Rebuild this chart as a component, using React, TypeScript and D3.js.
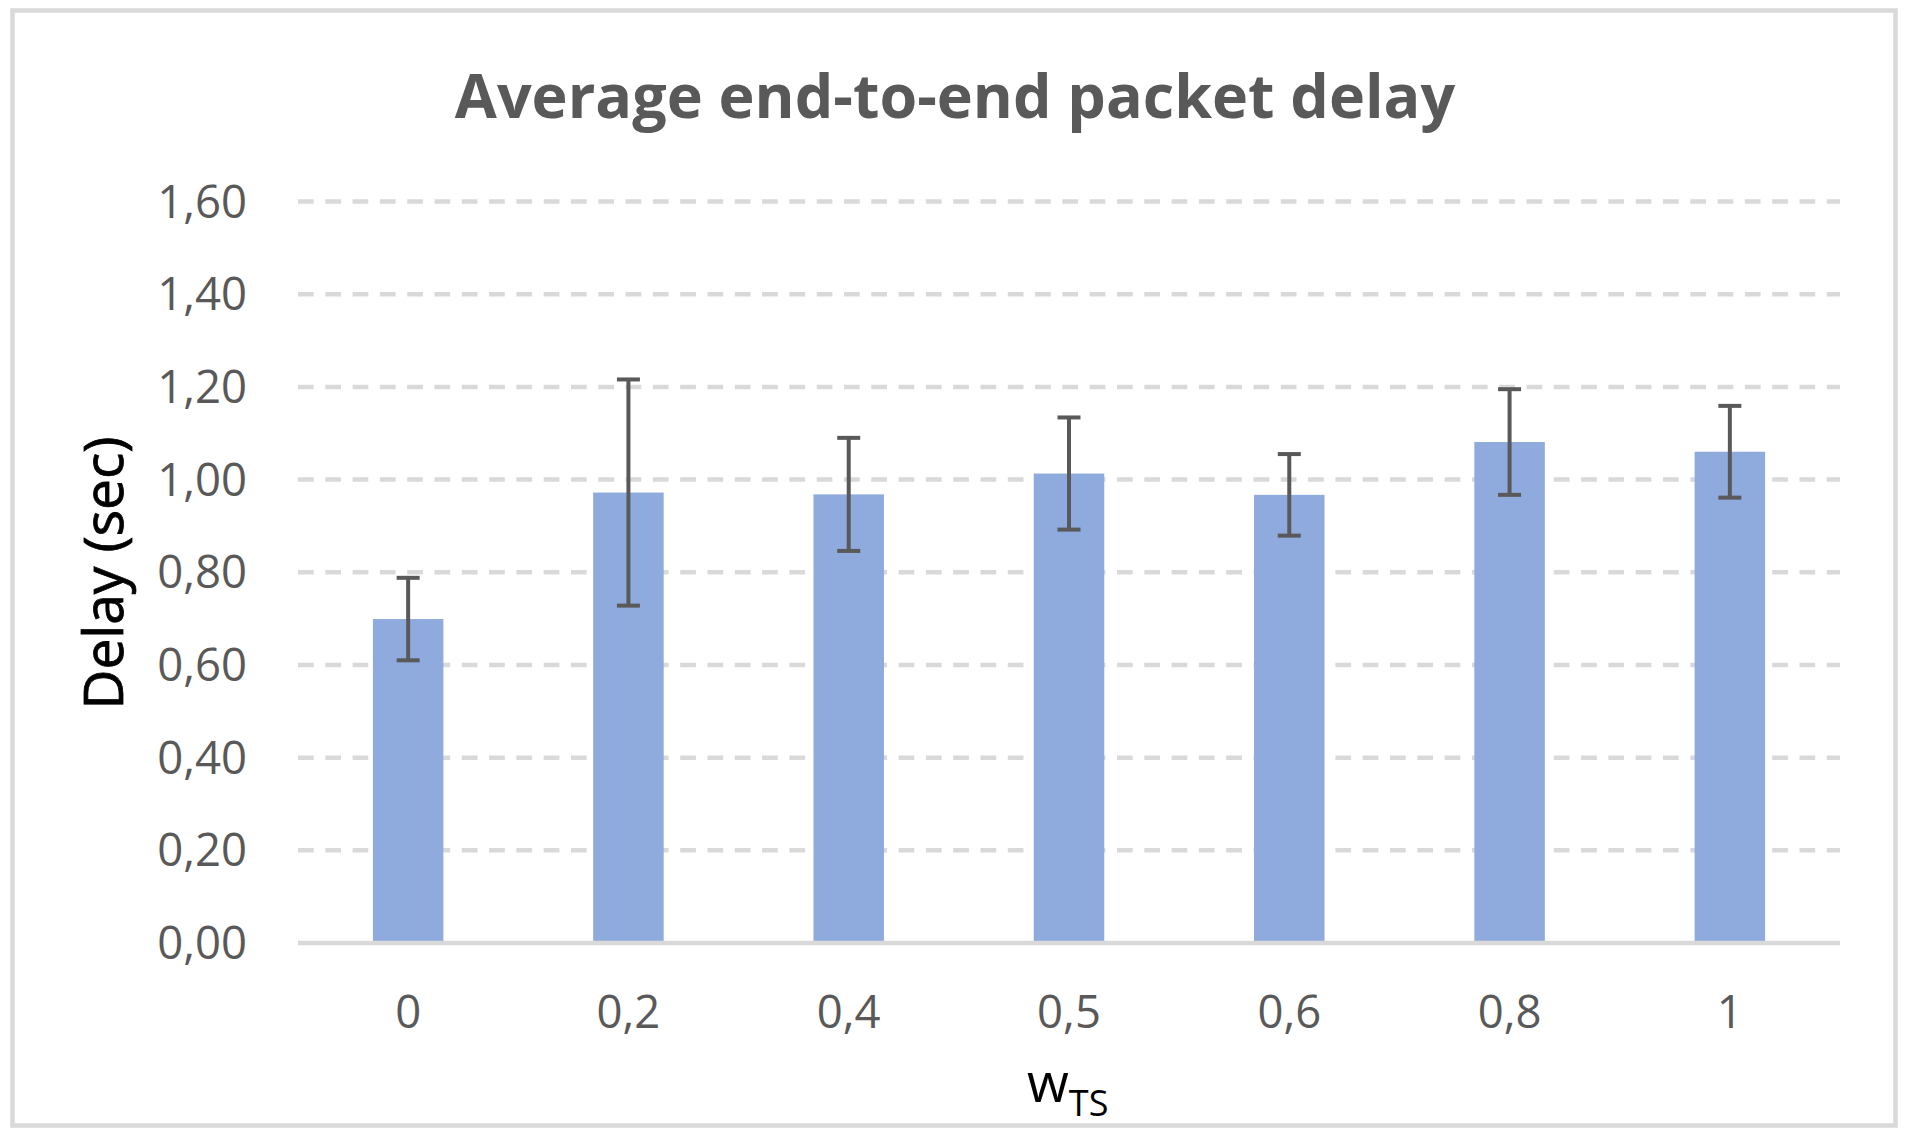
import { useEffect, useRef } from 'react'
import * as d3 from 'd3'

const categories = ['0', '0,2', '0,4', '0,5', '0,6', '0,8', '1']
const delays = [0.699, 0.972, 0.968, 1.013, 0.967, 1.081, 1.06]
const errors = [0.089, 0.244, 0.122, 0.121, 0.088, 0.114, 0.099]
const yTicks = [0, 0.2, 0.4, 0.6, 0.8, 1.0, 1.2, 1.4, 1.6]

export default function App() {
  const svgRef = useRef<SVGSVGElement>(null)

  useEffect(() => {
    if (!svgRef.current) return
    const svg = d3.select(svgRef.current)
    svg.selectAll('*').remove()

    const width = 1910
    const height = 1140
    const left = 298
    const right = 1840
    const top = 201.5
    const bottom = 943

    const fmt = d3.formatLocale({ decimal: ',', thousands: '.', grouping: [3], currency: ['', '€'] }).format('.2f')

    // Chart area border
    svg.append('rect')
      .attr('x', 12.5).attr('y', 10.5)
      .attr('width', 1883).attr('height', 1115)
      .attr('fill', '#ffffff')
      .attr('stroke', '#d9d9d9')
      .attr('stroke-width', 4.5)

    const x = d3.scaleBand<string>()
      .domain(categories)
      .range([left, right])
      .paddingInner(0.68)
      .paddingOuter(0.34)

    const y = d3.scaleLinear().domain([0, 1.6]).range([bottom, top])

    // Dashed gridlines
    svg.append('g')
      .selectAll('line')
      .data(yTicks.filter(t => t > 0))
      .enter()
      .append('line')
      .attr('x1', left).attr('x2', right)
      .attr('y1', d => y(d)).attr('y2', d => y(d))
      .attr('stroke', '#d9d9d9')
      .attr('stroke-width', 4.5)
      .attr('stroke-dasharray', '15.7 11.6')

    // Y tick labels
    svg.append('g')
      .selectAll('text')
      .data(yTicks)
      .enter()
      .append('text')
      .attr('x', 247)
      .attr('y', d => y(d) + 16)
      .attr('text-anchor', 'end')
      .attr('font-family', "'Open Sans', sans-serif")
      .attr('font-size', 45.5)
      .attr('fill', '#595959')
      .text(d => fmt(d))

    // Bars
    svg.append('g')
      .selectAll('rect')
      .data(categories)
      .enter()
      .append('rect')
      .attr('x', d => x(d)!)
      .attr('width', x.bandwidth())
      .attr('y', (_, i) => y(delays[i]))
      .attr('height', (_, i) => bottom - y(delays[i]))
      .attr('fill', '#8faadc')

    // Baseline
    svg.append('line')
      .attr('x1', left).attr('x2', right)
      .attr('y1', bottom).attr('y2', bottom)
      .attr('stroke', '#d9d9d9')
      .attr('stroke-width', 4.5)

    // Error bars
    const eb = svg.append('g')
      .selectAll('g')
      .data(categories)
      .enter()
      .append('g')
      .attr('stroke', '#595959')
      .attr('stroke-width', 4)
    const cx = (d: string) => x(d)! + x.bandwidth() / 2
    eb.append('line')
      .attr('x1', cx).attr('x2', cx)
      .attr('y1', (_, i) => y(delays[i] + errors[i]))
      .attr('y2', (_, i) => y(delays[i] - errors[i]))
    eb.append('line')
      .attr('x1', d => cx(d) - 11.5).attr('x2', d => cx(d) + 11.5)
      .attr('y1', (_, i) => y(delays[i] + errors[i]))
      .attr('y2', (_, i) => y(delays[i] + errors[i]))
    eb.append('line')
      .attr('x1', d => cx(d) - 11.5).attr('x2', d => cx(d) + 11.5)
      .attr('y1', (_, i) => y(delays[i] - errors[i]))
      .attr('y2', (_, i) => y(delays[i] - errors[i]))

    // X tick labels
    svg.append('g')
      .selectAll('text')
      .data(categories)
      .enter()
      .append('text')
      .attr('x', cx)
      .attr('y', 1028)
      .attr('text-anchor', 'middle')
      .attr('font-family', "'Open Sans', sans-serif")
      .attr('font-size', 45.5)
      .attr('fill', '#595959')
      .text(d => d)

    // Title
    svg.append('text')
      .attr('x', width / 2)
      .attr('y', 118)
      .attr('text-anchor', 'middle')
      .attr('font-family', "'Open Sans', sans-serif")
      .attr('font-weight', 700)
      .attr('font-size', 61)
      .attr('fill', '#595959')
      .text('Average end-to-end packet delay')

    // Y axis title
    svg.append('text')
      .attr('transform', 'translate(123,573) rotate(-90)')
      .attr('text-anchor', 'middle')
      .attr('font-family', "'Open Sans', sans-serif")
      .attr('font-size', 55)
      .attr('stroke', '#000000')
      .attr('stroke-width', 0.8)
      .attr('fill', '#000000')
      .text('Delay (sec)')

    // X axis title with subscript
    const xt = svg.append('text')
      .attr('x', 1027)
      .attr('y', 1102)
      .attr('font-family', "'Open Sans', sans-serif")
      .attr('font-size', 54)
      .attr('fill', '#000000')
    xt.append('tspan').text('w')
    xt.append('tspan').attr('font-size', 36).attr('dy', 14).text('TS')

    svg.attr('width', width).attr('height', height)
  }, [])

  return (
    <svg
      ref={svgRef}
      width={1910}
      height={1140}
      style={{ position: 'absolute', left: 0, top: 0, display: 'block', background: '#ffffff' }}
    />
  )
}
